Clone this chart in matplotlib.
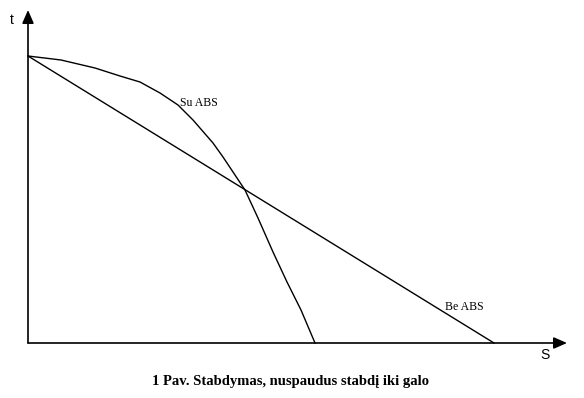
import matplotlib
matplotlib.use("Agg")
import matplotlib.pyplot as plt

# Data (S distance, t time) in arbitrary units
be_abs_S = [0, 466]
be_abs_t = [287, 0]

su_abs_S = [0, 33, 67, 92, 112, 132, 150, 165, 185, 195, 205, 217, 230, 245, 259, 273, 287]
su_abs_t = [287, 283, 275, 267, 261, 250, 238, 223, 200, 186, 171, 153, 125, 91, 61, 33, 0]

x_max = 539
y_max = 333

fig = plt.figure(figsize=(5.84, 3.98), dpi=100)
fig.patch.set_facecolor("white")
ax = fig.add_axes([28 / 584, 55 / 398, x_max / 584, y_max / 398])
ax.set_xlim(0, x_max)
ax.set_ylim(0, y_max)
for sp in ax.spines.values():
    sp.set_visible(False)
ax.set_xticks([])
ax.set_yticks([])
ax.patch.set_alpha(0)

arrow = dict(arrowstyle="-|>,head_length=0.8,head_width=0.35", color="black", lw=1.2,
             shrinkA=0, shrinkB=0)
ax.annotate("", xy=(x_max, 0), xytext=(0, 0), arrowprops=arrow, annotation_clip=False)
ax.annotate("", xy=(0, y_max), xytext=(0, 0), arrowprops=arrow, annotation_clip=False)

ax.plot(be_abs_S, be_abs_t, color="black", lw=1.0, clip_on=False)
ax.plot(su_abs_S, su_abs_t, color="black", lw=1.0, clip_on=False)

serif = ["Liberation Serif", "DejaVu Serif"]
sans = ["Liberation Sans", "DejaVu Sans"]
ax.text(152, 240, "Su ABS", family=serif, fontsize=8.5, ha="left", va="center")
ax.text(417, 36, "Be ABS", family=serif, fontsize=8.5, ha="left", va="center")
ax.text(-16, 323, "t", family=sans, fontsize=10, ha="center", va="center")
ax.text(517, -12, "S", family=sans, fontsize=10, ha="center", va="center")

fig.text(291 / 584, 1 - 382 / 398, "1 Pav. Stabdymas, nuspaudus stabdį iki galo",
         family=serif, fontsize=10.5, fontweight="bold", ha="center", va="center")

fig.savefig("out.png", dpi=100, facecolor="white")
